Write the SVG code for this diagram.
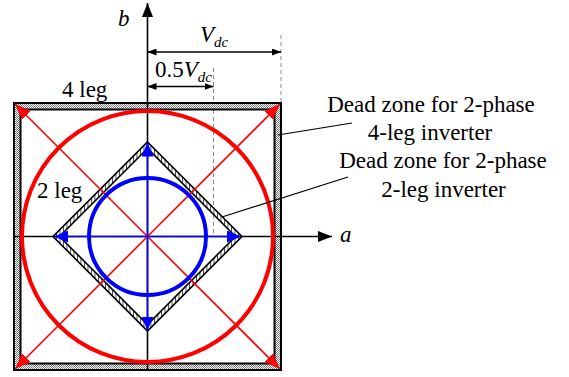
<svg xmlns="http://www.w3.org/2000/svg" width="569" height="377" viewBox="0 0 569 377">
<style>
.t{font-family:"Liberation Serif","Times New Roman",serif;font-size:23px;fill:#000}
.i{font-style:italic}
.s{font-size:15px;font-style:italic}
.dash{stroke:#8a8a8a;stroke-width:1;stroke-dasharray:4 3;fill:none}
.ax{stroke:#000;stroke-width:1.6;fill:none}
.red{stroke:#ff0000;stroke-width:1.6;fill:none}
.blue{stroke:#0000ff;stroke-width:1.6;fill:none}
.lead{stroke:#000;stroke-width:1.2;fill:none}
</style>
<defs>
<pattern id="grey" width="2" height="2" patternUnits="userSpaceOnUse">
<rect width="2" height="2" fill="#ffffff"/>
<rect width="1" height="1" fill="#7a7a7a"/>
<rect x="1" y="1" width="1" height="1" fill="#7a7a7a"/>
</pattern>
<pattern id="hatch" width="3.5" height="3.5" patternUnits="userSpaceOnUse">
<rect width="3.5" height="3.5" fill="#ffffff"/>
<line x1="0.5" y1="0" x2="0.5" y2="3.5" stroke="#000" stroke-width="0.7"/>
</pattern>
<marker id="ra" viewBox="0 0 16 12" refX="16" refY="6" markerWidth="16" markerHeight="12" markerUnits="userSpaceOnUse" orient="auto"><path d="M0,0 L16,6 L0,12 z" fill="#ff0000"/></marker>
<marker id="ba" viewBox="0 0 14 12" refX="14" refY="6" markerWidth="14" markerHeight="12" markerUnits="userSpaceOnUse" orient="auto"><path d="M0,0 L14,6 L0,12 z" fill="#0000ff"/></marker>
<marker id="ka" viewBox="0 0 14 11" refX="14" refY="5.5" markerWidth="14" markerHeight="11" markerUnits="userSpaceOnUse" orient="auto"><path d="M0,0 L14,5.5 L0,11 z" fill="#000"/></marker>
<marker id="da" viewBox="0 0 9 7" refX="9" refY="3.5" markerWidth="9" markerHeight="7" markerUnits="userSpaceOnUse" orient="auto-start-reverse"><path d="M0,0 L9,3.5 L0,7 z" fill="#000"/></marker>
</defs>

<g id="dimensions">
<line class="dash" x1="281" y1="35" x2="281" y2="103"/>
<line class="dash" x1="213.5" y1="68" x2="213.5" y2="236"/>
<line class="ax" x1="147.5" y1="52" x2="281" y2="52" stroke-width="1.3" marker-start="url(#da)" marker-end="url(#da)"/>
<line class="ax" x1="147.5" y1="86.5" x2="213.5" y2="86.5" stroke-width="1.3" marker-start="url(#da)" marker-end="url(#da)"/>
</g>

<g id="square-4leg">
<path d="M14,103 H281 V370 H14 Z M20.5,109.5 V363.5 H274.5 V109.5 Z" fill="url(#grey)" fill-rule="evenodd" stroke="#000" stroke-width="2"/>
</g>

<g id="diamond-2leg">
<path d="M147.5,142 L242,236.5 L147.5,331 L53,236.5 Z M147.5,148.5 L59.5,236.5 L147.5,324.5 L235.5,236.5 Z" fill="url(#hatch)" fill-rule="evenodd" stroke="#000" stroke-width="1.6"/>
</g>

<g id="axes">
<line class="ax" x1="147.5" y1="370" x2="147.5" y2="3" marker-end="url(#ka)"/>
<line class="ax" x1="14" y1="236.5" x2="332" y2="236.5" marker-end="url(#ka)"/>
</g>

<g id="red-circle">
<circle cx="147.5" cy="236.5" r="125.5" fill="none" stroke="#ff0000" stroke-width="4"/>
</g>

<g id="connectors">
<line class="red" x1="147.5" y1="236.5" x2="15" y2="104" marker-end="url(#ra)"/>
<line class="red" x1="147.5" y1="236.5" x2="280" y2="104" marker-end="url(#ra)"/>
<line class="red" x1="147.5" y1="236.5" x2="15" y2="369" marker-end="url(#ra)"/>
<line class="red" x1="147.5" y1="236.5" x2="280" y2="369" marker-end="url(#ra)"/>
<line class="blue" x1="147.5" y1="236.5" x2="147.5" y2="142.5" marker-end="url(#ba)"/>
<line class="blue" x1="147.5" y1="236.5" x2="147.5" y2="330.5" marker-end="url(#ba)"/>
<line class="blue" x1="147.5" y1="236.5" x2="54" y2="236.5" marker-end="url(#ba)"/>
<line class="blue" x1="147.5" y1="236.5" x2="241" y2="236.5" marker-end="url(#ba)"/>
<line class="lead" x1="278" y1="135" x2="352" y2="123"/>
<line class="lead" x1="222" y1="217" x2="348" y2="177"/>
</g>

<g id="blue-circle">
<circle cx="147.5" cy="236.5" r="58.5" fill="none" stroke="#0000ff" stroke-width="4"/>
</g>

<g id="labels">
<text class="t i" x="118" y="26">b</text>
<text class="t i" x="340" y="242">a</text>
<text class="t" x="200" y="42"><tspan class="i">V</tspan><tspan class="s" dy="5">dc</tspan></text>
<text class="t" x="155" y="77">0.5<tspan class="i">V</tspan><tspan class="s" dy="5">dc</tspan></text>
<text class="t" x="62" y="97">4 leg</text>
<text class="t" x="37" y="198">2 leg</text>
<text class="t" x="431" y="112" text-anchor="middle">Dead zone for 2-phase</text>
<text class="t" x="430" y="140" text-anchor="middle">4-leg inverter</text>
<text class="t" x="443" y="168" text-anchor="middle">Dead zone for 2-phase</text>
<text class="t" x="443.5" y="197" text-anchor="middle">2-leg inverter</text>
</g>
</svg>
